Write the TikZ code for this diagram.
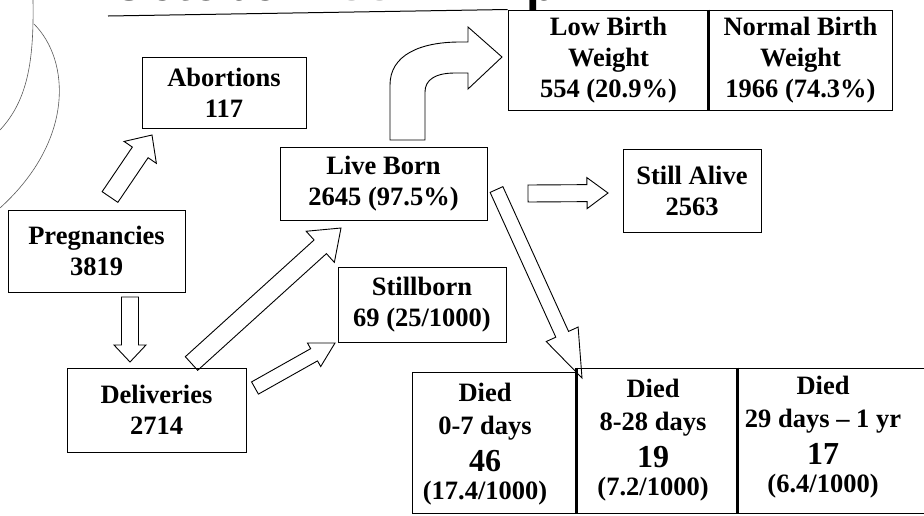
\documentclass[tikz,border=0pt]{standalone}
\usepackage{fontspec}
\setmainfont{Liberation Serif}
\newfontfamily\titlefont{Liberation Sans}
\usetikzlibrary{calc}
\tikzset{
  box/.style={draw, line width=1pt, align=center, inner sep=0pt,
    font=\bfseries\fontsize{26.5}{31}\selectfont},
  cell/.style={draw, line width=1pt, inner sep=0pt},
  celltext/.style={align=center, inner sep=0pt,
    font=\bfseries\fontsize{26.5}{28}\selectfont},
  barrow/.style={draw, line width=0.9pt, fill=white, line join=miter},
  divider/.style={line width=2.4pt},
  thincurve/.style={draw, black!65, line width=0.6pt},
  titletext/.style={anchor=base west, inner sep=0pt,
    font=\titlefont\bfseries\fontsize{49}{50}\selectfont},
}
% block arrow: from, to, shaft half width, head half width, head length
\newcommand\blockarrow[5]{%
  \coordinate (tb) at ($(#2)!#5!(#1)$);
  \draw[barrow] ($(#1)!#3!90:(#2)$) -- ($(tb)!#3!-90:(#1)$) -- ($(tb)!#4!-90:(#1)$)
    -- (#2) -- ($(tb)!#4!90:(#1)$) -- ($(tb)!#3!90:(#1)$) -- ($(#1)!#3!-90:(#2)$) -- cycle;
}
\begin{document}
\begin{tikzpicture}[x=1pt,y=-1pt]
\useasboundingbox (0,0) rectangle (924,515);

% title fragments (cut off at the top)
\node[titletext] (title) at (110,0.5) {October {\color{black!40}200}};
\node[titletext] (titlep) at (526,0.5) {p};

% left decorative curves
\draw[thincurve] (33,0) .. controls (34,60) and (28,100) .. (0,130);
\draw[thincurve] (34,24) .. controls (70,60) and (75,140) .. (0,208);

% arrow end points
\coordinate (a1s) at (110,197);   \coordinate (a1e) at (152,135);
\coordinate (a2s) at (130,297);   \coordinate (a2e) at (130,362);
\coordinate (a3s) at (191.5,363.5); \coordinate (a3e) at (341,228);
\coordinate (a4s) at (255,388);   \coordinate (a4e) at (335,343);
\coordinate (a5s) at (496.5,189.5); \coordinate (a5e) at (582,378);
\coordinate (a6s) at (528,193.5); \coordinate (a6e) at (608,193);

\blockarrow{a1s}{a1e}{9.5pt}{19.5pt}{21pt}
\blockarrow{a2s}{a2e}{8.5pt}{16pt}{17pt}
\blockarrow{a3s}{a3e}{9.2pt}{21pt}{28pt}
\blockarrow{a4s}{a4e}{7pt}{13.5pt}{24pt}
\blockarrow{a5s}{a5e}{7pt}{17.5pt}{48pt}
\blockarrow{a6s}{a6e}{8.5pt}{15.5pt}{21pt}

% curved arrow from Live Born to birth weight
\draw[barrow] (390,140) -- (390,85) .. controls (390,55) and (420,42) .. (460,42) -- (468,42)
  -- (468,27) -- (502,57) -- (468,89) -- (468,73) -- (455,73)
  .. controls (435,73) and (425,80) .. (425,92) -- (425,140) -- cycle;

% boxes
\node[box, minimum width=177pt, minimum height=82pt] (preg) at (96.5,251) {Pregnancies\\3819};
\node[box, minimum width=164pt, minimum height=71pt] (abort) at (224,92.5) {Abortions\\117};
\node[box, minimum width=179pt, minimum height=84pt] (deliv) at (156.5,410) {Deliveries\\2714};
\node[box, minimum width=207pt, minimum height=73pt] (live) at (383.5,183.5) {Live Born\\2645 (97.5\%)};
\node[box, minimum width=168pt, minimum height=75pt] (still) at (422,304.5) {Stillborn\\69 (25/1000)};
\node[box, minimum width=138pt, minimum height=83pt] (alive) at (692,190.5) {Still Alive\\2563};
\node[box, minimum width=201pt, minimum height=100pt] (lbw) at (608.5,60) {Low Birth\\Weight\\554 (20.9\%)};
\node[box, minimum width=183pt, minimum height=100pt] (nbw) at (800.5,60) {Normal Birth\\Weight\\1966 (74.3\%)};
\draw[divider] (nbw.north west) -- (nbw.south west);

% title underline
\draw[line width=1pt] (108,16) -- (lbw.north west);

% died table
\node[cell, minimum width=165pt, minimum height=141pt] (d1) at (494.5,442.5) {};
\node[cell, minimum width=161pt, minimum height=145pt] (d2) at (657.5,440.5) {};
\node[cell, minimum width=192pt, minimum height=145pt] (d3) at (834,440.5) {};
\draw[divider] (d2.north west) -- (d2.south west);
\draw[divider] (d3.north west) -- (d3.south west);
\node[celltext] (d1t) at (485,444) {Died\\[5pt]0-7 days\\[9pt]{\fontsize{32}{28}\selectfont 46}\\(17.4/1000)};
\node[celltext] (d2t) at (653,440.5) {Died\\[5pt]8-28 days\\[9pt]{\fontsize{32}{28}\selectfont 19}\\(7.2/1000)};
\node[celltext] (d3t) at (823,437.5) {Died\\[5pt]29 days -- 1 yr\\[9pt]{\fontsize{32}{28}\selectfont 17}\\(6.4/1000)};
\end{tikzpicture}
\end{document}
